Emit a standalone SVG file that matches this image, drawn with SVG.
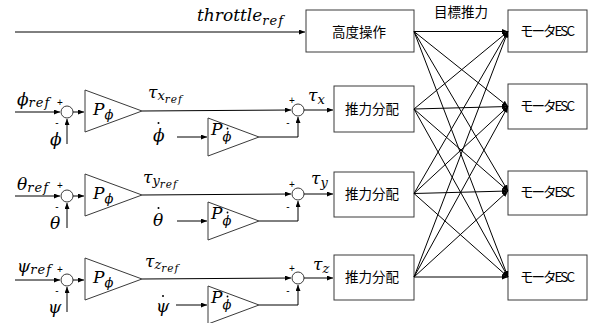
<svg xmlns="http://www.w3.org/2000/svg" width="589" height="323" viewBox="0 0 589 323">
  <style>
    .box { fill: #fff; stroke: #3a3a3a; stroke-width: 1; }
    .tri { fill: #fff; stroke: #3a3a3a; stroke-width: 1; }
    .sum { fill: #fff; stroke: #3a3a3a; stroke-width: 1; }
    .dot { fill: #000; }
    .wire { fill: none; stroke: #000; stroke-width: 1; marker-end: url(#arr); }
    .math { font-family: "DejaVu Serif", "Liberation Serif", serif; font-style: italic; font-size: 17px; fill: #000; }
    .sub { font-size: 13px; }
    .subsub { font-size: 10.5px; }
    .sign { font-family: "Liberation Sans", Arial, sans-serif; font-size: 10px; fill: #000; text-anchor: middle; }
    .jp { font-family: "Noto Sans CJK JP", "Noto Sans", sans-serif; font-size: 13.5px; fill: #000; text-anchor: middle; }
  </style>
  <defs>
    <marker id="arr" markerUnits="userSpaceOnUse" markerWidth="7" markerHeight="5" refX="6" refY="2.5" orient="auto">
      <path d="M0,0 L6,2.5 L0,5 z" fill="#000"/>
    </marker>
  </defs>

  <!-- blocks -->
  <g id="altitude">
    <rect class="box" x="306" y="10" width="108" height="42"/>
    <text class="jp" x="359" y="37">高度操作</text>
  </g>
  <g id="alloc-x">
    <rect class="box" x="334" y="86" width="80" height="46"/>
    <text class="jp" x="372" y="114">推力分配</text>
  </g>
  <g id="alloc-y">
    <rect class="box" x="334" y="172" width="80" height="45"/>
    <text class="jp" x="372" y="199">推力分配</text>
  </g>
  <g id="alloc-z">
    <rect class="box" x="334" y="255" width="80" height="45"/>
    <text class="jp" x="372" y="282">推力分配</text>
  </g>
  <g id="esc1">
    <rect class="box" x="508" y="10" width="79" height="42"/>
    <text class="jp" x="547.5" y="36" font-size="13" textLength="55">モータESC</text>
  </g>
  <g id="esc2">
    <rect class="box" x="508" y="84" width="79" height="45"/>
    <text class="jp" x="547.5" y="111" font-size="13" textLength="55">モータESC</text>
  </g>
  <g id="esc3">
    <rect class="box" x="508" y="171" width="79" height="44"/>
    <text class="jp" x="547.5" y="197" font-size="13" textLength="55">モータESC</text>
  </g>
  <g id="esc4">
    <rect class="box" x="508" y="255" width="79" height="45"/>
    <text class="jp" x="547.5" y="282" font-size="13" textLength="55">モータESC</text>
  </g>
  <text class="jp" x="461" y="17">目標推力</text>

  <!-- roll loop -->
  <g id="roll">
    <circle class="sum" cx="67" cy="112" r="6"/>
    <polygon class="tri" points="85,90 85,132 142,111"/>
    <circle class="sum" cx="298" cy="110" r="6"/>
    <polygon class="tri" points="208,118 208,156 259,137"/>
    <text class="math" x="17" y="105">ϕ<tspan class="sub" dy="2" letter-spacing="1">ref</tspan></text>
    <text class="math" x="50" y="145">ϕ</text>
    <text class="math" x="93" y="115">P<tspan class="sub" dy="4">ϕ</tspan></text>
    <text class="math" x="211" y="135">P<tspan class="sub" dy="6">ϕ</tspan></text>
    <circle class="dot" cx="227.5" cy="128.5" r="0.9"/>
    <text class="math" x="153" y="141">ϕ</text>
    <circle class="dot" cx="158.5" cy="123" r="1"/>
    <text class="math" x="148" y="98">τ<tspan class="sub" dy="2">x</tspan><tspan class="subsub" dy="3" letter-spacing="1">ref</tspan></text>
    <text class="math" x="308" y="101">τ<tspan class="sub" dy="3">x</tspan></text>
    <text class="sign" x="60" y="106">+</text>
    <text class="sign" x="57" y="126">-</text>
    <text class="sign" x="292" y="104">+</text>
    <text class="sign" x="288" y="126">-</text>
  </g>

  <!-- pitch loop -->
  <g id="pitch">
    <circle class="sum" cx="67" cy="196" r="6"/>
    <polygon class="tri" points="85,174 85,216 142,195"/>
    <circle class="sum" cx="298" cy="194" r="6"/>
    <polygon class="tri" points="208,202 208,240 259,221"/>
    <text class="math" x="17" y="190">θ<tspan class="sub" dy="2" letter-spacing="1">ref</tspan></text>
    <text class="math" x="50" y="229">θ</text>
    <text class="math" x="93" y="199">P<tspan class="sub" dy="4">ϕ</tspan></text>
    <text class="math" x="211" y="219">P<tspan class="sub" dy="6">ϕ</tspan></text>
    <circle class="dot" cx="227.5" cy="212.5" r="0.9"/>
    <text class="math" x="153" y="226">θ</text>
    <circle class="dot" cx="158.5" cy="208" r="1"/>
    <text class="math" x="143" y="183">τ<tspan class="sub" dy="2">y</tspan><tspan class="subsub" dy="3" letter-spacing="1">ref</tspan></text>
    <text class="math" x="311" y="184">τ<tspan class="sub" dy="3">y</tspan></text>
    <text class="sign" x="60" y="189">+</text>
    <text class="sign" x="57" y="210">-</text>
    <text class="sign" x="292" y="188">+</text>
    <text class="sign" x="288" y="210">-</text>
  </g>

  <!-- yaw loop -->
  <g id="yaw">
    <circle class="sum" cx="67" cy="280" r="6"/>
    <polygon class="tri" points="85,258 85,300 142,279"/>
    <circle class="sum" cx="298" cy="278" r="6"/>
    <polygon class="tri" points="208,286 208,324 259,305"/>
    <text class="math" x="17" y="272">ψ<tspan class="sub" dy="2" letter-spacing="1">ref</tspan></text>
    <text class="math" x="48" y="313">ψ</text>
    <text class="math" x="93" y="283">P<tspan class="sub" dy="4">ϕ</tspan></text>
    <text class="math" x="211" y="303">P<tspan class="sub" dy="6">ϕ</tspan></text>
    <circle class="dot" cx="227.5" cy="296.5" r="0.9"/>
    <text class="math" x="156" y="312">ψ</text>
    <circle class="dot" cx="163" cy="296" r="1"/>
    <text class="math" x="145" y="267">τ<tspan class="sub" dy="2">z</tspan><tspan class="subsub" dy="3" letter-spacing="1">ref</tspan></text>
    <text class="math" x="313" y="270">τ<tspan class="sub" dy="3">z</tspan></text>
    <text class="sign" x="60" y="273">+</text>
    <text class="sign" x="57" y="294">-</text>
    <text class="sign" x="292" y="272">+</text>
    <text class="sign" x="288" y="294">-</text>
  </g>

  <text class="math" x="197" y="21">throttle<tspan class="sub" dy="4" letter-spacing="1">ref</tspan></text>

  <!-- connectors -->
  <g id="connectors">
    <path class="wire" d="M15,32 H305"/>

    <path class="wire" d="M15,112 H60"/>
    <path class="wire" d="M73,112 H84"/>
    <path class="wire" d="M67,144 V119"/>
    <path class="wire" d="M142,111 L291,110"/>
    <path class="wire" d="M177,137 H207"/>
    <path class="wire" d="M259,137 H298 V117"/>
    <path class="wire" d="M304,110 H333"/>

    <path class="wire" d="M15,196 H60"/>
    <path class="wire" d="M73,196 H84"/>
    <path class="wire" d="M67,228 V203"/>
    <path class="wire" d="M142,195 L291,194"/>
    <path class="wire" d="M177,221 H207"/>
    <path class="wire" d="M259,221 H298 V201"/>
    <path class="wire" d="M304,194 H333"/>

    <path class="wire" d="M15,280 H60"/>
    <path class="wire" d="M73,280 H84"/>
    <path class="wire" d="M67,312 V287"/>
    <path class="wire" d="M142,279 L291,278"/>
    <path class="wire" d="M176,305 H207"/>
    <path class="wire" d="M259,305 H298 V285"/>
    <path class="wire" d="M304,278 H333"/>

    <!-- thrust allocation to every motor -->
    <path class="wire" d="M414,31.5 L508,31.5"/>
    <path class="wire" d="M414,31.5 L508,106.5"/>
    <path class="wire" d="M414,31.5 L508,191"/>
    <path class="wire" d="M414,31.5 L508,277"/>
    <path class="wire" d="M414,109 L508,31.5"/>
    <path class="wire" d="M414,109 L508,106.5"/>
    <path class="wire" d="M414,109 L508,191"/>
    <path class="wire" d="M414,109 L508,277"/>
    <path class="wire" d="M414,193.5 L508,31.5"/>
    <path class="wire" d="M414,193.5 L508,106.5"/>
    <path class="wire" d="M414,193.5 L508,191"/>
    <path class="wire" d="M414,193.5 L508,277"/>
    <path class="wire" d="M414,277 L508,31.5"/>
    <path class="wire" d="M414,277 L508,106.5"/>
    <path class="wire" d="M414,277 L508,191"/>
    <path class="wire" d="M414,277 L508,277"/>
  </g>
</svg>
